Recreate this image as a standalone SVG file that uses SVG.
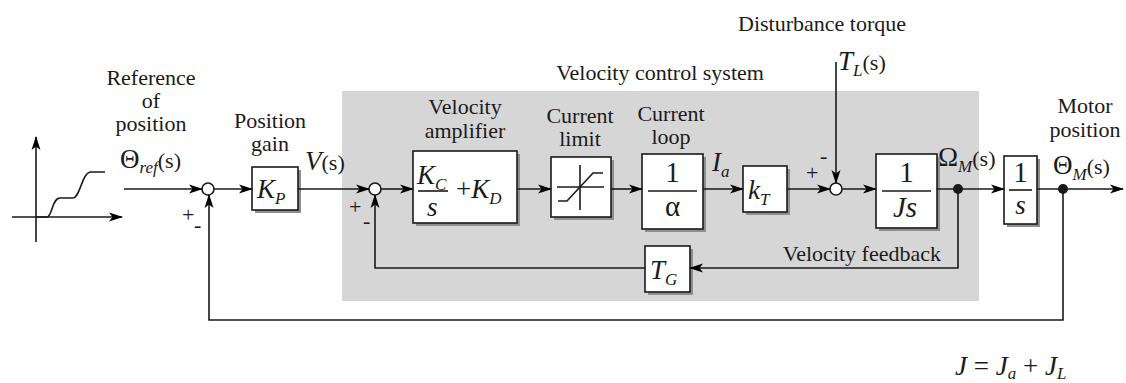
<svg xmlns="http://www.w3.org/2000/svg" width="1126" height="383" viewBox="0 0 1126 383">
<defs>
<marker id="ah" markerUnits="userSpaceOnUse" markerWidth="16" markerHeight="10" refX="13" refY="5" orient="auto">
<path d="M0,0.5 L14,5 L0,9.5 L3.5,5 z" fill="#000"/>
</marker>
</defs>
<style>
.t{font-family:"Liberation Serif","Times New Roman",serif;font-size:22px;fill:#1a1a1a}
.m{font-family:"Liberation Serif","Times New Roman",serif;font-size:27px;font-style:italic;fill:#1a1a1a}
.mu{font-family:"Liberation Serif","Times New Roman",serif;font-size:27px;fill:#1a1a1a}
.sub{font-size:17px}
.par{font-size:22px;font-style:normal}
.box{fill:#fff;stroke:#1a1a1a;stroke-width:1.6}
.sh{fill:#8f8f8f}
.ln{fill:none;stroke:#1a1a1a;stroke-width:1.6}
.ar{fill:none;stroke:#1a1a1a;stroke-width:1.6;marker-end:url(#ah)}
.sum{fill:#fff;stroke:#1a1a1a;stroke-width:1.6}
.dot{fill:#1a1a1a}
.sg{font-family:"Liberation Serif","Times New Roman",serif;font-size:22px;fill:#1a1a1a}
</style>
<rect id="panel" x="342" y="91" width="637" height="210" fill="#d6d6d6"/>

<g id="labels">
<text class="t" x="660" y="80" text-anchor="middle">Velocity control system</text>
<text class="t" x="822" y="31" text-anchor="middle">Disturbance torque</text>
<text class="t" x="151" y="85" text-anchor="middle">Reference</text>
<text class="t" x="151" y="108" text-anchor="middle">of</text>
<text class="t" x="151" y="131" text-anchor="middle">position</text>
<text class="t" x="270" y="128" text-anchor="middle">Position</text>
<text class="t" x="270" y="151" text-anchor="middle">gain</text>
<text class="t" x="465" y="114" text-anchor="middle">Velocity</text>
<text class="t" x="465" y="138" text-anchor="middle">amplifier</text>
<text class="t" x="580" y="123" text-anchor="middle">Current</text>
<text class="t" x="580" y="146" text-anchor="middle">limit</text>
<text class="t" x="671" y="121" text-anchor="middle">Current</text>
<text class="t" x="671" y="144" text-anchor="middle">loop</text>
<text class="t" x="1085" y="113" text-anchor="middle">Motor</text>
<text class="t" x="1085" y="137" text-anchor="middle">position</text>
<text class="t" x="941" y="261" text-anchor="end">Velocity feedback</text>
</g>

<g id="signal-labels">
<text class="mu" x="120" y="168">Θ<tspan class="sub" font-style="italic" dy="5">ref</tspan><tspan class="par" dy="-5">(</tspan><tspan class="par" font-style="italic">s</tspan><tspan class="par">)</tspan></text>
<text class="m" x="305" y="170">V<tspan class="par">(</tspan><tspan class="par" font-style="italic">s</tspan><tspan class="par">)</tspan></text>
<text class="m" x="712" y="171">I<tspan class="sub" dy="6">a</tspan></text>
<text class="m" x="838" y="70">T<tspan class="sub" dy="6">L</tspan><tspan class="par" dy="-6">(</tspan><tspan class="par" font-style="italic">s</tspan><tspan class="par">)</tspan></text>
<text class="mu" x="938" y="166">Ω<tspan class="sub" font-style="italic" dy="6">M</tspan><tspan class="par" dy="-6">(</tspan><tspan class="par" font-style="italic">s</tspan><tspan class="par">)</tspan></text>
<text class="mu" x="1053" y="174">Θ<tspan class="sub" font-style="italic" dy="6">M</tspan><tspan class="par" dy="-6">(</tspan><tspan class="par" font-style="italic">s</tspan><tspan class="par">)</tspan></text>
<text class="m" x="955" y="375">J<tspan font-style="normal"> = </tspan>J<tspan class="sub" dy="4">a</tspan><tspan font-style="normal" dy="-4"> + </tspan>J<tspan class="sub" dy="4">L</tspan></text>
</g>

<g id="ref-graph">
<line class="ar" x1="36" y1="242" x2="36" y2="137"/>
<line class="ar" x1="12" y1="217" x2="122" y2="217"/>
<path class="ln" d="M36,217 L47,217 C52,217 52,198 60,198 L73,198 C80,198 82,172 91,172 L105,172"/>
</g>

<g id="sum1"><circle class="sum" cx="208" cy="189" r="6"/><text class="sg" x="182" y="222">+</text><text class="sg" x="194" y="232">-</text></g>
<g id="kp"><rect class="sh" x="255" y="170" width="46" height="43"/><rect class="box" x="252" y="167" width="46" height="43"/><text class="m" x="257" y="198">K<tspan class="sub" dy="6">P</tspan></text></g>
<g id="sum2"><circle class="sum" cx="375" cy="189" r="6"/><text class="sg" x="349" y="214">+</text><text class="sg" x="363" y="228">-</text></g>
<g id="velamp"><rect class="sh" x="416" y="154" width="104" height="72"/><rect class="box" x="413" y="151" width="104" height="72"/>
<text class="m" x="417" y="184">K<tspan class="sub" dy="6">C</tspan></text><line class="ln" x1="418" y1="191" x2="448" y2="191"/><text class="m" x="427" y="216">s</text>
<text class="mu" x="456" y="198">+<tspan font-style="italic">K</tspan><tspan class="sub" font-style="italic" dy="6">D</tspan></text></g>
<g id="curlimit"><rect class="sh" x="554" y="160" width="60" height="60"/><rect class="box" x="551" y="157" width="60" height="60"/>
<line class="ln" x1="557" y1="187" x2="604" y2="187"/><line class="ln" x1="580" y1="165" x2="580" y2="210"/>
<path class="ln" d="M558,201 L567,201 L593,173 L603,173"/></g>
<g id="curloop"><rect class="sh" x="645" y="157" width="61" height="75"/><rect class="box" x="642" y="154" width="61" height="75"/>
<text class="mu" x="672.5" y="182" text-anchor="middle" style="font-size:29px">1</text><line class="ln" x1="648" y1="191" x2="697" y2="191"/><text class="mu" x="672.5" y="216" text-anchor="middle" style="font-size:29px">α</text></g>
<g id="kt"><rect class="sh" x="746" y="169" width="44" height="46"/><rect class="box" x="743" y="166" width="44" height="46"/><text class="m" x="748" y="199">k<tspan class="sub" dy="6">T</tspan></text></g>
<g id="sum3"><circle class="sum" cx="836" cy="189" r="6"/><text class="sg" x="806" y="180">+</text><text class="sg" x="820" y="163">-</text></g>
<g id="js"><rect class="sh" x="879" y="157" width="61" height="74"/><rect class="box" x="876" y="154" width="61" height="74"/>
<text class="mu" x="906.5" y="182" text-anchor="middle" style="font-size:29px">1</text><line class="ln" x1="882" y1="191" x2="931" y2="191"/><text class="m" x="905" y="217" text-anchor="middle" style="font-size:29px">Js</text></g>
<g id="integ"><rect class="sh" x="1007" y="159" width="33" height="68"/><rect class="box" x="1004" y="156" width="33" height="68"/>
<text class="mu" x="1020.5" y="182" text-anchor="middle" style="font-size:29px">1</text><line class="ln" x1="1009" y1="190" x2="1032" y2="190"/><text class="m" x="1020.5" y="214" text-anchor="middle">s</text></g>
<g id="tg"><rect class="sh" x="648" y="249" width="45" height="46"/><rect class="box" x="645" y="246" width="45" height="46"/><text class="m" x="650" y="279">T<tspan class="sub" dy="6">G</tspan></text></g>

<g id="connectors">
<line class="ar" x1="124" y1="189" x2="202" y2="189"/>
<line class="ar" x1="214" y1="189" x2="252" y2="189"/>
<line class="ar" x1="298" y1="189" x2="369" y2="189"/>
<line class="ar" x1="381" y1="189" x2="413" y2="189"/>
<line class="ar" x1="517" y1="189" x2="551" y2="189"/>
<line class="ar" x1="611" y1="189" x2="642" y2="189"/>
<line class="ar" x1="703" y1="189" x2="743" y2="189"/>
<line class="ar" x1="787" y1="189" x2="830" y2="189"/>
<line class="ar" x1="842" y1="189" x2="876" y2="189"/>
<line class="ar" x1="937" y1="189" x2="1004" y2="189"/>
<line class="ar" x1="1037" y1="189" x2="1123" y2="189"/>
<line class="ar" x1="836" y1="62" x2="836" y2="183"/>
<polyline class="ar" points="958,189 958,268 690,268"/>
<polyline class="ar" points="645,268 375,268 375,195"/>
<polyline class="ar" points="1063,189 1063,320 209,320 209,195"/>
<circle class="dot" cx="958" cy="189" r="5"/>
<circle class="dot" cx="1063" cy="189" r="5"/>
</g>
</svg>
